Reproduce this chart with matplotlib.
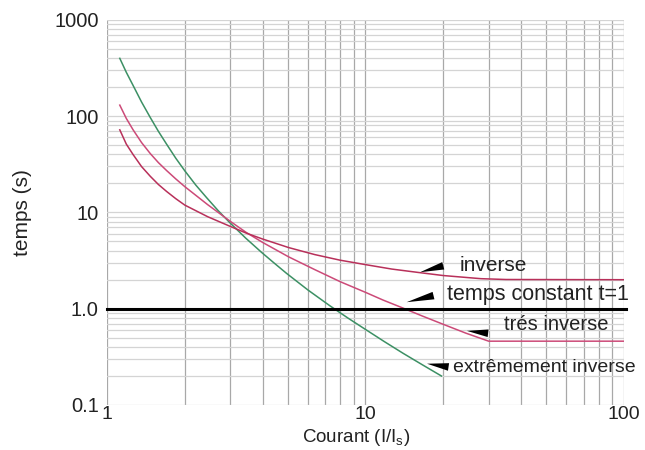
import matplotlib
matplotlib.use("Agg")
import matplotlib.pyplot as plt
from matplotlib.ticker import FixedLocator, FixedFormatter, LogLocator, NullFormatter

plt.rcParams['font.family'] = ['Liberation Sans', 'DejaVu Sans']

# courbes
x_ext = [1.12, 1.187, 1.26, 1.36, 1.47, 1.58, 1.7, 1.844, 2, 2.206, 2.43, 2.69, 2.98,
         3.44, 3.97, 4.44, 4.95, 6.0, 7.26, 8.52, 10, 11.83, 14, 16.6, 19.7]
t_ext = [398, 285, 209, 140, 96.6, 69.5, 51.1, 36.6, 27.0, 19.2, 14.2, 10.45, 7.87,
         5.41, 3.83, 2.97, 2.33, 1.56, 1.08, 0.806, 0.61, 0.456, 0.344, 0.262, 0.2]

x_tres = [1.12, 1.187, 1.26, 1.36, 1.47, 1.58, 1.7, 1.844, 2, 2.45, 3, 3.46, 4, 5.05,
          6.36, 7.98, 10, 11.7, 13.8, 16.6, 20, 24.5, 30, 100]
t_tres = [130, 94.6, 72.3, 53.1, 40.8, 32.9, 27.2, 22.3, 18.5, 12.05, 8.07, 6.18, 4.88, 3.45,
          2.55, 1.91, 1.48, 1.23, 1.03, 0.84, 0.689, 0.557, 0.46, 0.46]

x_inv = [1.12, 1.187, 1.26, 1.36, 1.47, 1.58, 1.7, 1.844, 2, 2.45, 3, 3.46, 4, 5.05,
         6.36, 7.98, 10, 12.65, 16, 20, 28, 35, 100]
t_inv = [72, 51.2, 40.0, 29.9, 23.7, 19.5, 16.5, 13.9, 11.9, 9.03, 7.15, 6.09, 5.29, 4.31,
         3.65, 3.19, 2.87, 2.58, 2.38, 2.21, 2.05, 2.01, 2.0]

x_const = [1, 100]
t_const = [1, 1]

yticks = [0.1, 1, 10, 100, 1000]
ylabels = ['0.1', '1.0', '10', '100', '1000']
xticks = [1, 10, 100]
xlabels = ['1', '10', '100']

fig = plt.figure(figsize=(6.45, 4.5), dpi=100)
ax = fig.add_axes([0.166, 0.1, 0.801, 0.856])
ax.set_xscale('log')
ax.set_yscale('log')
ax.set_xlim(1, 100)
ax.set_ylim(0.1, 1000)

ax.xaxis.set_major_locator(FixedLocator(xticks))
ax.xaxis.set_major_formatter(FixedFormatter(xlabels))
ax.xaxis.set_minor_locator(LogLocator(base=10, subs=range(2, 10)))
ax.xaxis.set_minor_formatter(NullFormatter())
ax.yaxis.set_major_locator(FixedLocator(yticks))
ax.yaxis.set_major_formatter(FixedFormatter(ylabels))
ax.yaxis.set_minor_locator(LogLocator(base=10, subs=range(2, 10)))
ax.yaxis.set_minor_formatter(NullFormatter())

ax.grid(True, which='both', axis='x', color='#a8a8a8', lw=0.9)
ax.grid(True, which='both', axis='y', color='#d4d4d4', lw=0.9)
for s in ax.spines.values():
    s.set_visible(False)
ax.tick_params(which='both', length=0, labelsize=14.5, colors='#222222')
ax.tick_params(axis='x', pad=0.5, labelsize=14)
ax.tick_params(axis='y', pad=6)

ax.plot(x_ext, t_ext, color='#3c9064', lw=1.1)
ax.plot(x_tres, t_tres, color='#cc4a78', lw=1.1)
ax.plot(x_inv, t_inv, color='#b8305a', lw=1.1)
ax.plot([x_const[0], x_const[1] * 1.025], t_const, color='black', lw=2.2, clip_on=False)

fig.text(0.552, 1 - 448.5 / 450, 'Courant (I/I$_\\mathregular{s}$)', fontsize=13.5,
         color='#222222', ha='center', va='bottom')
ax.set_ylabel('temps (s)', fontsize=15, color='#222222', labelpad=16)

notes = [
    ('inverse', (15.9, 2.35), (20.5, 2.84), (23.1, 2.84), 15),
    ('temps constant t=1', (14.1, 1.15), (18.8, 1.39), (20.7, 1.39), 15.5),
    ('trés inverse', (24.1, 0.593), (30.6, 0.552), (34.4, 0.684), 14.5),
    ('extrêmement inverse', (16.9, 0.271), (21.5, 0.246), (21.9, 0.246), 14),
]
for label, tip, base, pos, size in notes:
    ax.annotate('', xy=tip, xytext=base,
                arrowprops=dict(arrowstyle='wedge,tail_width=0.55,shrink_factor=0.5',
                                color='black', lw=0))
    ax.text(pos[0], pos[1], label, fontsize=size, color='#222222', va='center', ha='left')

fig.savefig('out.png', dpi=100)
